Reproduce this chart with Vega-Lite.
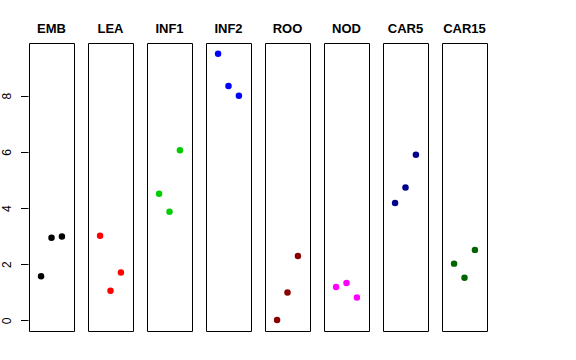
{
  "$schema": "https://vega.github.io/schema/vega-lite/v6.json",
  "padding": {"left": 0, "top": 23, "right": 0, "bottom": 0},
  "background": "white",
  "data": {"values": [
    {"panel": "EMB", "pos": 1, "value": 1.57},
    {"panel": "EMB", "pos": 2, "value": 2.94},
    {"panel": "EMB", "pos": 3, "value": 2.99},
    {"panel": "LEA", "pos": 1, "value": 3.01},
    {"panel": "LEA", "pos": 2, "value": 1.05},
    {"panel": "LEA", "pos": 3, "value": 1.70},
    {"panel": "INF1", "pos": 1, "value": 4.51},
    {"panel": "INF1", "pos": 2, "value": 3.87},
    {"panel": "INF1", "pos": 3, "value": 6.06},
    {"panel": "INF2", "pos": 1, "value": 9.50},
    {"panel": "INF2", "pos": 2, "value": 8.35},
    {"panel": "INF2", "pos": 3, "value": 8.00},
    {"panel": "ROO", "pos": 1, "value": 0.01},
    {"panel": "ROO", "pos": 2, "value": 0.99},
    {"panel": "ROO", "pos": 3, "value": 2.29},
    {"panel": "NOD", "pos": 1, "value": 1.19},
    {"panel": "NOD", "pos": 2, "value": 1.33},
    {"panel": "NOD", "pos": 3, "value": 0.81},
    {"panel": "CAR5", "pos": 1, "value": 4.18},
    {"panel": "CAR5", "pos": 2, "value": 4.73},
    {"panel": "CAR5", "pos": 3, "value": 5.90},
    {"panel": "CAR15", "pos": 1, "value": 2.02},
    {"panel": "CAR15", "pos": 2, "value": 1.52},
    {"panel": "CAR15", "pos": 3, "value": 2.51}
  ]},
  "facet": {
    "column": {
      "field": "panel", "type": "nominal",
      "sort": ["EMB", "LEA", "INF1", "INF2", "ROO", "NOD", "CAR5", "CAR15"],
      "header": {
        "title": null,
        "labelFontSize": 13, "labelFontWeight": "bold", "labelFont": "Liberation Sans",
        "labelColor": "black", "labelPadding": -4, "labelBaseline": "alphabetic"
      }
    }
  },
  "spacing": 12,
  "spec": {
    "width": 45,
    "height": 288,
    "mark": {"type": "circle", "size": 42, "opacity": 1},
    "encoding": {
      "x": {"field": "pos", "type": "quantitative",
            "scale": {"domain": [-0.16, 4.16], "nice": false, "zero": false}, "axis": null},
      "y": {"field": "value", "type": "quantitative",
            "scale": {"domain": [-0.38, 9.88], "nice": false, "zero": false},
            "axis": {"title": null, "values": [0, 2, 4, 6, 8], "grid": false, "domain": false,
                     "tickColor": "black", "tickSize": 7.5, "labelAngle": 270,
                     "labelAlign": "center", "labelBaseline": "bottom", "labelPadding": 7,
                     "labelFontSize": 12, "labelFont": "Liberation Sans", "labelColor": "black"}},
      "color": {"field": "panel", "type": "nominal",
                "scale": {"domain": ["EMB", "LEA", "INF1", "INF2", "ROO", "NOD", "CAR5", "CAR15"],
                          "range": ["#000000", "#FF0000", "#00CD00", "#0000FF", "#8B0000", "#FF00FF", "#00008B", "#006400"]},
                "legend": null}
    }
  },
  "config": {"view": {"stroke": "black", "strokeWidth": 1}}
}
